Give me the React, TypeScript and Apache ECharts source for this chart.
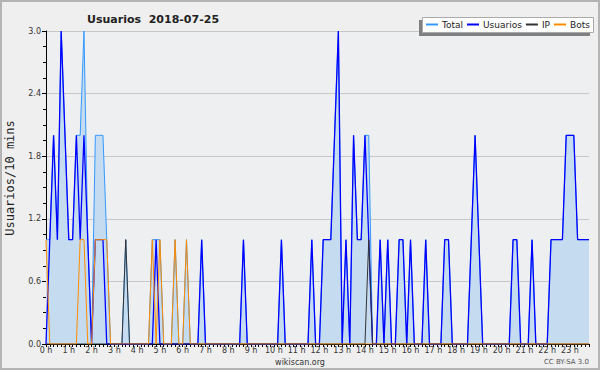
import React, { useEffect, useRef } from "react";
import * as echarts from "echarts";

const titleText = "Usuarios  2018-07-25";
const seriesNames = ["Total", "Usuarios", "IP", "Bots"];
const hourLabels = [
  "0 h", "1 h", "2 h", "3 h", "4 h", "5 h", "6 h", "7 h", "8 h", "9 h", "10 h", "11 h",
  "12 h", "13 h", "14 h", "15 h", "16 h", "17 h", "18 h", "19 h", "20 h", "21 h", "22 h", "23 h",
];
const yTicks = [0, 0.6, 1.2, 1.8, 2.4, 3.0];

// one value per 10 minutes, six per row (one row = one hour)
const total = [
  1, 1, 2, 1, 3, 2,
  1, 1, 2, 2, 3, 1,
  0, 2, 2, 2, 1, 0,
  0, 0, 0, 1, 0, 0,
  0, 0, 0, 0, 1, 1,
  1, 0, 0, 0, 1, 0,
  0, 1, 0, 0, 0, 1,
  0, 0, 0, 0, 0, 0,
  0, 0, 0, 0, 1, 0,
  0, 0, 0, 0, 0, 0,
  0, 0, 1, 0, 0, 0,
  0, 0, 0, 0, 1, 0,
  0, 1, 1, 1, 2, 3,
  0, 1, 0, 2, 1, 1,
  2, 2, 0, 0, 1, 0,
  1, 0, 0, 1, 1, 0,
  1, 0, 0, 0, 1, 0,
  0, 0, 0, 1, 1, 0,
  0, 0, 0, 0, 1, 2,
  1, 0, 0, 0, 0, 0,
  0, 0, 0, 1, 1, 0,
  0, 0, 1, 0, 0, 0,
  0, 1, 1, 1, 1, 2,
  2, 2, 1, 1, 1, 1,
];
const usuarios = [
  0, 1, 2, 1, 3, 2,
  1, 1, 2, 1, 2, 1,
  0, 1, 1, 1, 0, 0,
  0, 0, 0, 0, 0, 0,
  0, 0, 0, 0, 0, 1,
  0, 0, 0, 0, 0, 0,
  0, 0, 0, 0, 0, 1,
  0, 0, 0, 0, 0, 0,
  0, 0, 0, 0, 1, 0,
  0, 0, 0, 0, 0, 0,
  0, 0, 1, 0, 0, 0,
  0, 0, 0, 0, 1, 0,
  0, 1, 1, 1, 2, 3,
  0, 1, 0, 2, 1, 1,
  2, 1, 0, 0, 1, 0,
  1, 0, 0, 1, 1, 0,
  1, 0, 0, 0, 1, 0,
  0, 0, 0, 1, 1, 0,
  0, 0, 0, 0, 1, 2,
  1, 0, 0, 0, 0, 0,
  0, 0, 0, 1, 1, 0,
  0, 0, 1, 0, 0, 0,
  0, 1, 1, 1, 1, 2,
  2, 2, 1, 1, 1, 1,
];
const ip = [
  0, 0, 0, 0, 0, 0,
  0, 0, 0, 0, 0, 0,
  0, 0, 0, 0, 0, 0,
  0, 0, 0, 1, 0, 0,
  0, 0, 0, 0, 0, 0,
  0, 0, 0, 0, 0, 0,
  0, 0, 0, 0, 0, 0,
  0, 0, 0, 0, 0, 0,
  0, 0, 0, 0, 0, 0,
  0, 0, 0, 0, 0, 0,
  0, 0, 0, 0, 0, 0,
  0, 0, 0, 0, 0, 0,
  0, 0, 0, 0, 0, 0,
  0, 0, 0, 0, 0, 0,
  0, 1, 0, 0, 0, 0,
  0, 0, 0, 0, 0, 0,
  0, 0, 0, 0, 0, 0,
  0, 0, 0, 0, 0, 0,
  0, 0, 0, 0, 0, 0,
  0, 0, 0, 0, 0, 0,
  0, 0, 0, 0, 0, 0,
  0, 0, 0, 0, 0, 0,
  0, 0, 0, 0, 0, 0,
  0, 0, 0, 0, 0, 0,
];
const bots = [
  1, 0, 0, 0, 0, 0,
  0, 0, 0, 1, 1, 0,
  0, 1, 1, 1, 1, 0,
  0, 0, 0, 0, 0, 0,
  0, 0, 0, 0, 1, 0,
  1, 0, 0, 0, 1, 0,
  0, 1, 0, 0, 0, 0,
  0, 0, 0, 0, 0, 0,
  0, 0, 0, 0, 0, 0,
  0, 0, 0, 0, 0, 0,
  0, 0, 0, 0, 0, 0,
  0, 0, 0, 0, 0, 0,
  0, 0, 0, 0, 0, 0,
  0, 0, 0, 0, 0, 0,
  0, 0, 0, 0, 0, 0,
  0, 0, 0, 0, 0, 0,
  0, 0, 0, 0, 0, 0,
  0, 0, 0, 0, 0, 0,
  0, 0, 0, 0, 0, 0,
  0, 0, 0, 0, 0, 0,
  0, 0, 0, 0, 0, 0,
  0, 0, 0, 0, 0, 0,
  0, 0, 0, 0, 0, 0,
  0, 0, 0, 0, 0, 0,
];

const slotsPerHour = 6;
const categories = total.map((_, i) => {
  const h = Math.floor(i / slotsPerHour);
  const m = (i % slotsPerHour) * 10;
  return `${String(h).padStart(2, "0")}:${String(m).padStart(2, "0")}`;
});

const FONT = "DejaVu Sans";

export default function App() {
  const ref = useRef<HTMLDivElement>(null);
  useEffect(() => {
    if (!ref.current) return;
    const chart = echarts.init(ref.current, null, { renderer: "svg" });
    const colors = ["#3399ff", "#0000ff", "#333333", "#ff8c00"];
    const dataSets = [total, usuarios, ip, bots];
    chart.setOption({
      animation: false,
      backgroundColor: "#efefef",
      color: colors,
      title: {
        text: titleText,
        left: 82,
        top: 9,
        textStyle: { fontFamily: FONT, fontSize: 11, fontWeight: "bold", color: "#222" },
      },
      legend: {
        data: seriesNames,
        left: 425,
        top: 20,
        itemWidth: 12,
        itemHeight: 8,
        itemGap: 3,
        padding: 0,
        itemStyle: { opacity: 0 },
        textStyle: { fontFamily: FONT, fontSize: 9, color: "#222", padding: [0, 0, 0, -1] },
      },
      grid: { left: 46, right: 11, top: 31, bottom: 26, show: true, backgroundColor: "#eeeff1", borderWidth: 0 },
      xAxis: {
        type: "category",
        data: categories,
        boundaryGap: false,
        axisLine: { lineStyle: { color: "#000", width: 1 } },
        axisTick: { interval: 0, length: 3, lineStyle: { color: "#000" } },
        axisLabel: {
          interval: slotsPerHour - 1,
          margin: 2,
          fontFamily: FONT,
          fontSize: 8,
          color: "#333",
          formatter: (_v: string, idx: number) => hourLabels[Math.floor(idx / slotsPerHour)],
        },
        splitLine: { show: false },
      },
      yAxis: {
        type: "value",
        min: yTicks[0],
        max: yTicks[yTicks.length - 1],
        interval: yTicks[1] - yTicks[0],
        axisLine: { show: true, lineStyle: { color: "#000", width: 1 } },
        axisTick: { show: true, length: 4, lineStyle: { color: "#000" } },
        minorTick: { show: true, splitNumber: 4, length: 3, lineStyle: { color: "#000" } },
        axisLabel: {
          margin: 5,
          fontFamily: FONT,
          fontSize: 8,
          color: "#333",
          formatter: (v: number) => v.toFixed(1),
        },
        splitLine: { show: true, lineStyle: { color: "#c8c8c8", width: 1 } },
      },
      graphic: [
        { type: "rect", shape: { x: 1, y: 1, width: 598, height: 368 }, style: { fill: "none", stroke: "#b4b4b4", lineWidth: 2 }, z: 100, silent: true },
        { type: "rect", shape: { x: 419, y: 20, width: 171, height: 16 }, style: { fill: "#808080" }, z: 1 },
        { type: "rect", shape: { x: 422.5, y: 17.5, width: 171, height: 15 }, style: { fill: "#ffffff", stroke: "#aaaaaa", lineWidth: 1 }, z: 2 },
        {
          type: "text", x: 10, y: 178, rotation: Math.PI / 2,
          style: { text: "Usuarios/10 mins", fontFamily: "DejaVu Sans Mono", fontSize: 12, fill: "#222", align: "center", verticalAlign: "middle" },
        },
        {
          type: "text", x: 300, y: 362,
          style: { text: "wikiscan.org", fontFamily: FONT, fontSize: 8, fill: "#333", align: "center", verticalAlign: "middle" },
        },
        {
          type: "text", x: 589, y: 362,
          style: { text: "CC BY-SA 3.0", fontFamily: FONT, fontSize: 7, fill: "#555", align: "right", verticalAlign: "middle" },
        },
      ],
      series: seriesNames.map((name, k) => ({
        name,
        type: "line",
        data: dataSets[k],
        symbol: "none",
        lineStyle: { width: k === 1 ? 1.3 : 1, color: colors[k] },
        areaStyle: k === 0 ? { color: "#c5dcf0", opacity: 1 } : undefined,
        z: 2 + k,
      })),
    });
    return () => chart.dispose();
  }, []);
  return <div ref={ref} style={{ position: "absolute", left: 0, top: 0, width: 600, height: 370 }} />;
}
